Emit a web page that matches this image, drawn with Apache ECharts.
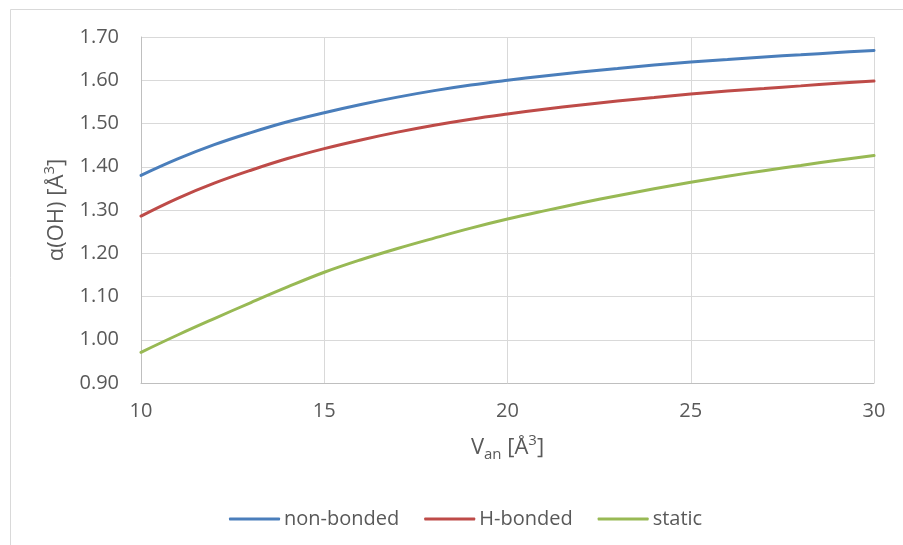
<!DOCTYPE html>
<html>
<head>
<meta charset="utf-8">
<script src="https://cdn.jsdelivr.net/npm/echarts@6/dist/echarts.min.js"></script>
<style>
  html, body { margin: 0; padding: 0; background: #fff; }
  #chart { width: 903px; height: 545px; }
</style>
</head>
<body>
<div id="chart"></div>
<script>
// V_an values (x axis), read at every whole unit
var vAn = [10, 11, 12, 13, 14, 15, 16, 17, 18, 19, 20, 21, 22, 23, 24, 25, 26, 27, 28, 29, 30];

// alpha(OH)
var nonBonded = [1.380, 1.418, 1.451, 1.479, 1.504, 1.525, 1.544, 1.561, 1.576, 1.589, 1.600,
                 1.610, 1.619, 1.627, 1.635, 1.642, 1.648, 1.654, 1.659, 1.664, 1.669];
var hBonded   = [1.286, 1.327, 1.362, 1.392, 1.419, 1.442, 1.462, 1.480, 1.496, 1.510, 1.522,
                 1.533, 1.543, 1.552, 1.560, 1.568, 1.575, 1.581, 1.587, 1.593, 1.598];
var staticVals = [0.971, 1.011, 1.049, 1.086, 1.122, 1.156, 1.185, 1.211, 1.235, 1.258, 1.279,
                  1.298, 1.316, 1.333, 1.349, 1.364, 1.378, 1.391, 1.403, 1.415, 1.426];

var seriesNames = ['non-bonded', 'H-bonded', 'static'];
var yTicks = [0.9, 1.7, 0.1]; // min, max, step
var xTicks = [10, 30, 5];

function pairs(ys) {
    var res = [];
    for (var i = 0; i < vAn.length; i++) {
        res.push([vAn[i], ys[i]]);
    }
    return res;
}

var txt = '#595959';
var font = 'Open Sans';
var fs = 20;
var nameFs = 22;

var chart = echarts.init(document.getElementById('chart'));

function lineSeries(name, data, color) {
    return {
        name: name,
        type: 'line',
        data: pairs(data),
        smooth: 0.4,
        symbol: 'none',
        lineStyle: { color: color, width: 3, cap: 'round' },
        itemStyle: { color: color }
    };
}

var option = {
    backgroundColor: '#fff',
    textStyle: { fontFamily: font, color: txt },
    animation: false,
    graphic: [{
        // chart area frame, runs off the right and bottom edge
        type: 'rect',
        shape: { x: 10.5, y: 9.5, width: 1000, height: 1000 },
        style: { fill: 'none', stroke: '#d9d9d9', lineWidth: 1 },
        silent: true
    }],
    grid: {
        left: 141,
        right: 29,
        top: 37,
        bottom: 162
    },
    legend: {
        data: seriesNames,
        left: 224,
        top: 504,
        icon: 'roundRect',
        itemWidth: 51,
        itemHeight: 3,
        itemGap: 25,
        textStyle: { fontFamily: font, fontSize: fs, color: txt, padding: [0, 0, 0, -1] }
    },
    xAxis: {
        type: 'value',
        min: xTicks[0],
        max: xTicks[1],
        interval: xTicks[2],
        name: '{n|V}{sub|an}{n| [Å}{sup|3}{n|]}',
        nameLocation: 'middle',
        nameGap: 50,
        nameTextStyle: {
            color: txt,
            rich: {
                n: { fontSize: nameFs, fontFamily: font, color: txt, lineHeight: 29 },
                sub: { fontSize: 15, fontFamily: font, color: txt, verticalAlign: 'bottom', lineHeight: 29 },
                sup: { fontSize: 15, fontFamily: font, color: txt, verticalAlign: 'top', lineHeight: 29 }
            }
        },
        axisLine: { show: true, lineStyle: { color: '#bfbfbf', width: 1 } },
        axisTick: { show: false },
        axisLabel: { fontSize: fs, fontFamily: font, color: txt, margin: 18 },
        splitLine: { show: true, lineStyle: { color: '#d9d9d9', width: 1 } }
    },
    yAxis: {
        type: 'value',
        min: yTicks[0],
        max: yTicks[1],
        interval: yTicks[2],
        name: '{n|α(OH) [Å}{sup|3}{n|]}',
        nameLocation: 'middle',
        nameGap: 70,
        nameTextStyle: {
            color: txt,
            rich: {
                n: { fontSize: nameFs, fontFamily: font, color: txt, lineHeight: 29 },
                sup: { fontSize: 15, fontFamily: font, color: txt, verticalAlign: 'top', lineHeight: 29 }
            }
        },
        axisLine: { show: true, lineStyle: { color: '#bfbfbf', width: 1 } },
        axisTick: { show: false },
        axisLabel: {
            fontSize: fs, fontFamily: font, color: txt, margin: 22,
            formatter: function (v) { return v.toFixed(2); }
        },
        splitLine: { show: true, lineStyle: { color: '#d9d9d9', width: 1 } }
    },
    series: [
        lineSeries(seriesNames[0], nonBonded, '#4a7ebb'),
        lineSeries(seriesNames[1], hBonded, '#be4b48'),
        lineSeries(seriesNames[2], staticVals, '#98b954')
    ]
};

chart.setOption(option);
</script>
</body>
</html>
